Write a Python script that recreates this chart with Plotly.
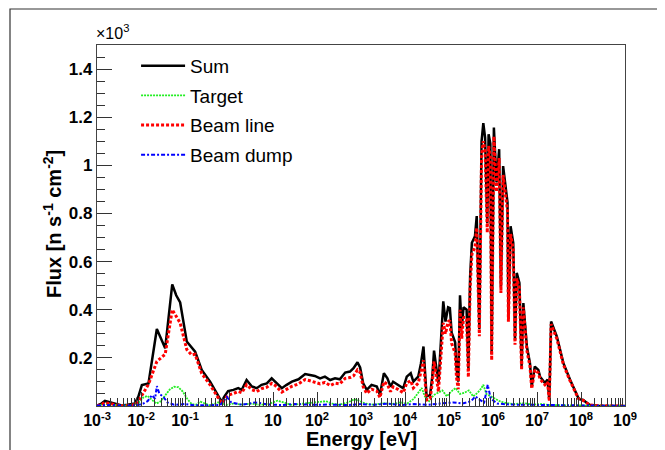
import numpy as np
import plotly.graph_objects as go

# ---- data (log10 of energy in eV, flux in n s^-1 cm^-2) ----
sum_log10_energy = [-3.00, -2.90, -2.82, -2.70, -2.59, -2.44, -2.30, -2.14, -2.06, -1.98, -1.83, -1.64, -1.45,
                    -1.29, -1.20, -1.11, -0.96, -0.85, -0.77, -0.62, -0.43, -0.28, -0.17, -0.11, -0.02,
                    0.10, 0.21, 0.29, 0.40, 0.52, 0.63, 0.74, 0.86, 0.97, 1.05, 1.20, 1.31, 1.43, 1.58,
                    1.73, 1.84, 1.95, 2.07, 2.18, 2.30, 2.41, 2.52, 2.64, 2.75, 2.83, 2.92, 2.98,
                    3.05, 3.13, 3.24, 3.36, 3.43, 3.52, 3.60, 3.67, 3.73, 3.85, 3.96, 4.04, 4.13, 4.19,
                    4.30, 4.36, 4.42, 4.49, 4.57, 4.62, 4.66, 4.76, 4.83, 4.87, 4.92, 4.98, 5.02, 5.06,
                    5.14, 5.17, 5.21, 5.25, 5.29, 5.33, 5.40, 5.44, 5.48, 5.52, 5.59, 5.63, 5.69, 5.74,
                    5.78, 5.82, 5.87, 5.90, 5.94, 5.97, 6.02, 6.08, 6.14, 6.18, 6.23, 6.30, 6.33, 6.35,
                    6.40, 6.46, 6.50, 6.54, 6.60, 6.65, 6.69, 6.77, 6.84, 6.88, 6.95, 7.03, 7.07, 7.18,
                    7.24, 7.28, 7.32, 7.45, 7.60, 7.75, 7.86, 7.94, 7.98, 8.05, 8.13, 8.20, 8.40, 8.70, 9.00]
sum_flux = [2, 10, 21, 15, 11, 2, 5, 11, 39, 87, 94, 320, 240,
            505, 460, 430, 268, 245, 226, 150, 101, 53, 18, 38, 62,
            67, 74, 67, 108, 81, 74, 88, 94, 115, 102, 74, 88, 101, 111,
            133, 129, 125, 115, 122, 108, 115, 111, 139, 143, 157, 182, 160,
            94, 67, 88, 81, 46, 136, 115, 81, 101, 88, 74, 122, 136, 101,
            122, 175, 247, 40, 46, 122, 230, 94, 300, 435, 351, 410, 407, 305,
            265, 157, 101, 460, 324, 410, 400, 157, 539, 678, 705, 789, 320, 1100,
            1175, 1115, 760, 1129, 1090, 215, 1157, 929, 1067, 497, 997, 900, 845, 372,
            747, 678, 275, 553, 511, 164, 428, 247, 178, 81, 164, 150, 122, 96,
            110, 25, 351, 289, 178, 110, 67, 33, 28, 25, 14, 4, 1, 0, 0]

beamline_flux = [1, 6, 14, 10, 8, 1, 3, 6, 20, 45, 90, 185, 215,
                 400, 375, 345, 235, 212, 215, 135, 88, 42, 12, 25, 45,
                 52, 60, 55, 88, 68, 60, 72, 78, 94, 85, 58, 70, 82, 92,
                 110, 105, 100, 92, 98, 85, 95, 92, 115, 118, 125, 150, 140,
                 80, 52, 70, 62, 35, 100, 90, 60, 80, 68, 55, 95, 105, 75,
                 95, 140, 190, 25, 30, 95, 185, 60, 240, 345, 300, 350, 355, 260,
                 220, 120, 70, 400, 280, 370, 360, 120, 490, 630, 660, 740, 290, 1040,
                 1100, 1060, 720, 1080, 1040, 190, 1120, 890, 1030, 470, 960, 860, 810, 350,
                 715, 650, 255, 530, 490, 150, 410, 230, 165, 72, 150, 138, 112, 88,
                 100, 20, 340, 280, 172, 105, 64, 31, 26, 23, 13, 4, 1, 0, 0]

target_log10_energy = [-3.0, -2.8, -2.6, -2.4, -2.2, -2.05, -1.95, -1.85, -1.75, -1.65, -1.55, -1.45, -1.35,
                       -1.25, -1.15, -1.05, -0.95, -0.85, -0.75, -0.65, -0.55, -0.45, -0.35, -0.25, -0.15,
                       -0.05, 0.1, 0.3, 0.5, 0.7, 0.9, 1.1, 1.25, 1.4, 1.6, 1.8, 2.0, 2.2, 2.35, 2.5, 2.7,
                       2.85, 2.95, 3.1, 3.3, 3.5, 3.7, 3.9, 4.05, 4.2, 4.3, 4.38, 4.45, 4.55, 4.65, 4.75,
                       4.85, 4.95, 5.05, 5.15, 5.25, 5.35, 5.45, 5.55, 5.65, 5.72, 5.78, 5.85, 5.95, 6.05,
                       6.15, 6.3, 6.5, 6.7, 6.9, 7.1, 7.3, 7.6, 8.0, 8.5, 9.0]
target_flux = [3, 8, 5, 2, 3, 15, 35, 42, 25, 10, 20, 45, 68,
               80, 78, 60, 30, 8, 5, 18, 10, 3, 8, 15, 10,
               5, 10, 6, 10, 5, 8, 22, 15, 5, 8, 12, 15, 20, 10, 5, 15,
               28, 22, 10, 5, 12, 8, 15, 10, 30, 55, 75, 40, 20, 45, 55,
               65, 40, 60, 75, 50, 55, 65, 40, 55, 70, 88, 50, 40, 30,
               20, 12, 8, 12, 6, 8, 4, 3, 2, 1, 0]

dump_log10_energy = [-3.0, -2.7, -2.4, -2.1, -1.95, -1.85, -1.75, -1.68, -1.64, -1.58, -1.5, -1.4, -1.25,
                     -1.0, -0.8, -0.5, -0.2, -0.05, 0.05, 0.3, 0.6, 0.9, 1.2, 1.5, 1.9, 2.3, 2.7, 3.0,
                     3.3, 3.6, 3.9, 4.2, 4.5, 4.8, 5.1, 5.3, 5.5, 5.6, 5.7, 5.8, 5.88, 5.95, 6.1, 6.4,
                     6.8, 7.2, 7.6, 8.0, 8.5, 9.0]
dump_flux = [2, 4, 2, 3, 10, 20, 45, 30, 83, 50, 40, 15, 5,
             8, 3, 5, 4, 38, 15, 5, 15, 6, 4, 8, 5, 6, 4, 8,
             5, 10, 4, 8, 5, 10, 15, 10, 20, 40, 25, 15, 88, 30, 10, 6,
             5, 4, 3, 2, 1, 0]

x_tick_exponents = [-3, -2, -1, 0, 1, 2, 3, 4, 5, 6, 7, 8, 9]
x_tick_labels = ["10<sup>-3</sup>", "10<sup>-2</sup>", "10<sup>-1</sup>", "1", "10", "10<sup>2</sup>",
                 "10<sup>3</sup>", "10<sup>4</sup>", "10<sup>5</sup>", "10<sup>6</sup>", "10<sup>7</sup>",
                 "10<sup>8</sup>", "10<sup>9</sup>"]
y_tick_values = [200, 400, 600, 800, 1000, 1200, 1400]
y_tick_labels = ["0.2", "0.4", "0.6", "0.8", "1", "1.2", "1.4"]

# ---- figure ----
E_sum = 10.0 ** np.array(sum_log10_energy)
E_tgt = 10.0 ** np.array(target_log10_energy)
E_dump = 10.0 ** np.array(dump_log10_energy)

fig = go.Figure()
fig.add_trace(go.Scatter(x=E_sum, y=sum_flux, mode="lines", name="Sum", legendgroup="a",
                         line=dict(color="black", width=2.5)))
fig.add_trace(go.Scatter(x=E_tgt, y=target_flux, mode="lines", name="Target", legendgroup="b",
                         line=dict(color="#22ee22", width=1.8, dash="2px,1px")))
fig.add_trace(go.Scatter(x=E_sum, y=beamline_flux, mode="lines", name="Beam line", legendgroup="c",
                         line=dict(color="#ff0000", width=3, dash="3px,2px")))
fig.add_trace(go.Scatter(x=E_dump, y=dump_flux, mode="lines", name="Beam dump", legendgroup="d",
                         line=dict(color="#0000ff", width=2, dash="4px,2px,2px,2px")))

font_family = "Liberation Sans, Arial, Helvetica, sans-serif"

# the page adds an 8px body margin; figure is sized so the plot area lands at page x 97-625, y 45-406
fig.update_layout(
    width=657, height=442,
    margin=dict(l=89, r=40, t=37, b=44),
    paper_bgcolor="white", plot_bgcolor="white",
    font=dict(family=font_family, color="black"),
    showlegend=True,
    legend=dict(x=0.074, y=0.995, xanchor="left", yanchor="top", bgcolor="rgba(0,0,0,0)",
                font=dict(size=19, family=font_family), tracegroupgap=2, itemwidth=44),
    xaxis=dict(type="log", range=[-3, 9], tickvals=[10.0 ** e for e in x_tick_exponents],
               ticktext=x_tick_labels, ticks="inside", ticklen=14, tickwidth=1, tickcolor="#333",
               showline=True, linecolor="#444", linewidth=1.2, mirror=True, showgrid=False, zeroline=False,
               tickfont=dict(size=16, family=font_family, weight="bold"),
               minor=dict(ticks="inside", ticklen=8, tickcolor="#333", dtick="D1", showgrid=False)),
    yaxis=dict(range=[0, 1500], tickvals=y_tick_values, ticktext=y_tick_labels,
               ticks="inside", ticklen=15, tickwidth=1, tickcolor="#333",
               showline=True, linecolor="#444", linewidth=1.2, mirror=True, showgrid=False, zeroline=False,
               tickfont=dict(size=17, family=font_family, weight="bold"),
               minor=dict(ticks="inside", ticklen=8, tickcolor="#333", dtick=50, showgrid=False)),
)

fig.add_annotation(text="<b>Energy [eV]</b>", xref="paper", yref="paper", x=0.5, y=(406 - 439) / 361,
                   xanchor="center", yanchor="middle", showarrow=False, font=dict(size=20, family=font_family))
fig.add_annotation(text="<b>Flux [n s<sup>-1</sup> cm<sup>-2</sup>]</b>", xref="paper", yref="paper",
                   x=(52 - 97) / 528, y=(406 - 224) / 361, xanchor="center", yanchor="middle",
                   textangle=-90, showarrow=False, font=dict(size=20, family=font_family))
fig.add_annotation(text="×10<sup>3</sup>", xref="paper", yref="paper", x=-0.006, y=(406 - 44) / 361,
                   xanchor="left", yanchor="bottom", showarrow=False, font=dict(size=16, family=font_family))
# canvas border
fig.add_shape(type="rect", xref="paper", yref="paper", x0=(10 - 97) / 528, x1=(663 - 97) / 528,
              y0=-0.2, y1=(406 - 9) / 361, line=dict(color="#333", width=1.2))

fig.write_html("out.html")
